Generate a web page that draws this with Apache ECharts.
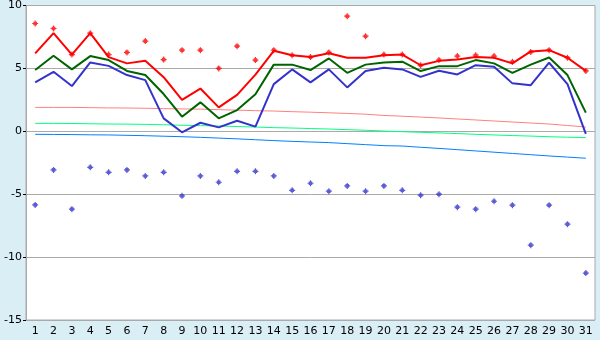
<!DOCTYPE html>
<html>
<head>
<meta charset="utf-8">
<script src="https://cdn.jsdelivr.net/npm/echarts@6/dist/echarts.min.js"></script>
<style>
  html, body { margin: 0; padding: 0; background: #daeef6; }
  #chart { width: 600px; height: 340px; }
</style>
</head>
<body>
<div id="chart"></div>
<script>
// days of the month
var days = [];
for (var d = 1; d <= 31; d++) days.push(String(d));

// thick lines
var redLine = [6.2, 7.8, 6.1, 7.8, 5.9, 5.4, 5.6, 4.3, 2.5, 3.4, 1.9, 2.9, 4.5, 6.4, 6.05,
  5.9, 6.2, 5.85, 5.85, 6.05, 6.1, 5.25, 5.6, 5.7, 5.9, 5.85, 5.4, 6.35, 6.45, 5.85, 4.8];
var greenLine = [4.87, 6.0, 4.92, 5.98, 5.66, 4.8, 4.47, 2.96, 1.16, 2.3, 1.03, 1.69, 2.94, 5.3, 5.3,
  4.87, 5.79, 4.65, 5.3, 5.47, 5.53, 4.79, 5.18, 5.18, 5.66, 5.4, 4.65, 5.3, 5.87, 4.47, 1.48];
var blueLine = [3.89, 4.73, 3.6, 5.47, 5.2, 4.47, 4.07, 1.03, -0.08, 0.68, 0.31, 0.84, 0.37, 3.75, 4.92,
  3.89, 4.92, 3.49, 4.79, 5.05, 4.92, 4.33, 4.81, 4.52, 5.26, 5.13, 3.81, 3.67, 5.45, 3.75, -0.21];

// point markers
var redPoints = [8.57, 8.17, 6.1, 7.8, 6.1, 6.27, 7.17, 5.7, 6.45, 6.45, 5.0, 6.77, 5.66, 6.45, 6.05,
  5.9, 6.27, 9.15, 7.56, 6.1, 6.1, 5.25, 5.66, 5.98, 6.05, 5.98, 5.53, 6.3, 6.45, 5.85, 4.8];
var bluePoints = [-5.85, -3.07, -6.19, -2.86, -3.26, -3.07, -3.55, -3.26, -5.13, -3.55, -4.05, -3.18, -3.18, -3.55, -4.69,
  -4.13, -4.76, -4.34, -4.76, -4.34, -4.69, -5.08, -5.0, -6.03, -6.19, -5.56, -5.87, -9.05, -5.87, -7.38, -11.27];

// thin trend lines
var pinkTrend = [1.9, 1.9, 1.9, 1.88, 1.86, 1.85, 1.83, 1.8, 1.78, 1.76, 1.72, 1.68, 1.64, 1.61, 1.56,
  1.52, 1.47, 1.42, 1.36, 1.26, 1.2, 1.13, 1.06, 0.98, 0.9, 0.82, 0.74, 0.66, 0.58, 0.46, 0.34];
var greenTrend = [0.63, 0.63, 0.62, 0.6, 0.58, 0.57, 0.55, 0.52, 0.48, 0.45, 0.42, 0.38, 0.34, 0.29, 0.26,
  0.22, 0.18, 0.13, 0.08, 0.02, -0.03, -0.08, -0.13, -0.18, -0.24, -0.29, -0.34, -0.38, -0.43, -0.47, -0.5];
var blueTrend = [-0.24, -0.25, -0.26, -0.28, -0.29, -0.32, -0.35, -0.39, -0.43, -0.48, -0.54, -0.6, -0.67, -0.74, -0.8,
  -0.85, -0.9, -0.98, -1.06, -1.14, -1.17, -1.27, -1.36, -1.46, -1.56, -1.66, -1.76, -1.86, -1.96, -2.05, -2.14];

var yTicks = { min: -15, max: 10, interval: 5 };

// small pixel-style plus marker
var plusMark = 'path://M2,0H3V1H4V2H5V3H4V4H3V5H2V4H1V3H0V2H1V1H2Z';

var chart = echarts.init(document.getElementById('chart'));

function line(data, color, width) {
  return {
    type: 'line', data: data, symbol: 'none', animation: false,
    lineStyle: { color: color, width: width }, itemStyle: { color: color }
  };
}
function points(data, color) {
  return {
    type: 'scatter', data: data, symbol: plusMark, symbolSize: 6, animation: false,
    itemStyle: { color: color }
  };
}

chart.setOption({
  backgroundColor: '#daeef6',
  textStyle: { fontFamily: 'DejaVu Sans' },
  grid: {
    left: 26, right: 5, top: 5, bottom: 20,
    show: true, backgroundColor: '#ffffff', borderColor: '#aaaaaa', borderWidth: 1
  },
  xAxis: {
    type: 'category', data: days, boundaryGap: true,
    axisLine: { lineStyle: { color: '#aaaaaa' } },
    axisTick: { alignWithLabel: true, length: 5, lineStyle: { color: '#000000' } },
    axisLabel: { color: '#000000', fontSize: 11, margin: 6, interval: 0 },
    splitLine: { show: false }
  },
  yAxis: {
    type: 'value', min: yTicks.min, max: yTicks.max, interval: yTicks.interval,
    axisLine: { show: true, lineStyle: { color: '#aaaaaa' } },
    axisTick: { show: true, length: 3, lineStyle: { color: '#000000' } },
    axisLabel: { color: '#000000', fontSize: 11, margin: 4 },
    splitLine: { lineStyle: { color: '#aaaaaa', width: 1 } }
  },
  series: [
    line(pinkTrend, '#ff8080', 1),
    line(greenTrend, '#00ff80', 1),
    line(blueTrend, '#0080ff', 1),
    line(blueLine, '#3333cc', 2),
    line(greenLine, '#006400', 2),
    line(redLine, '#ff0000', 2),
    points(redPoints, '#ff0000'),
    points(bluePoints, '#3333cc')
  ]
});
</script>
</body>
</html>
